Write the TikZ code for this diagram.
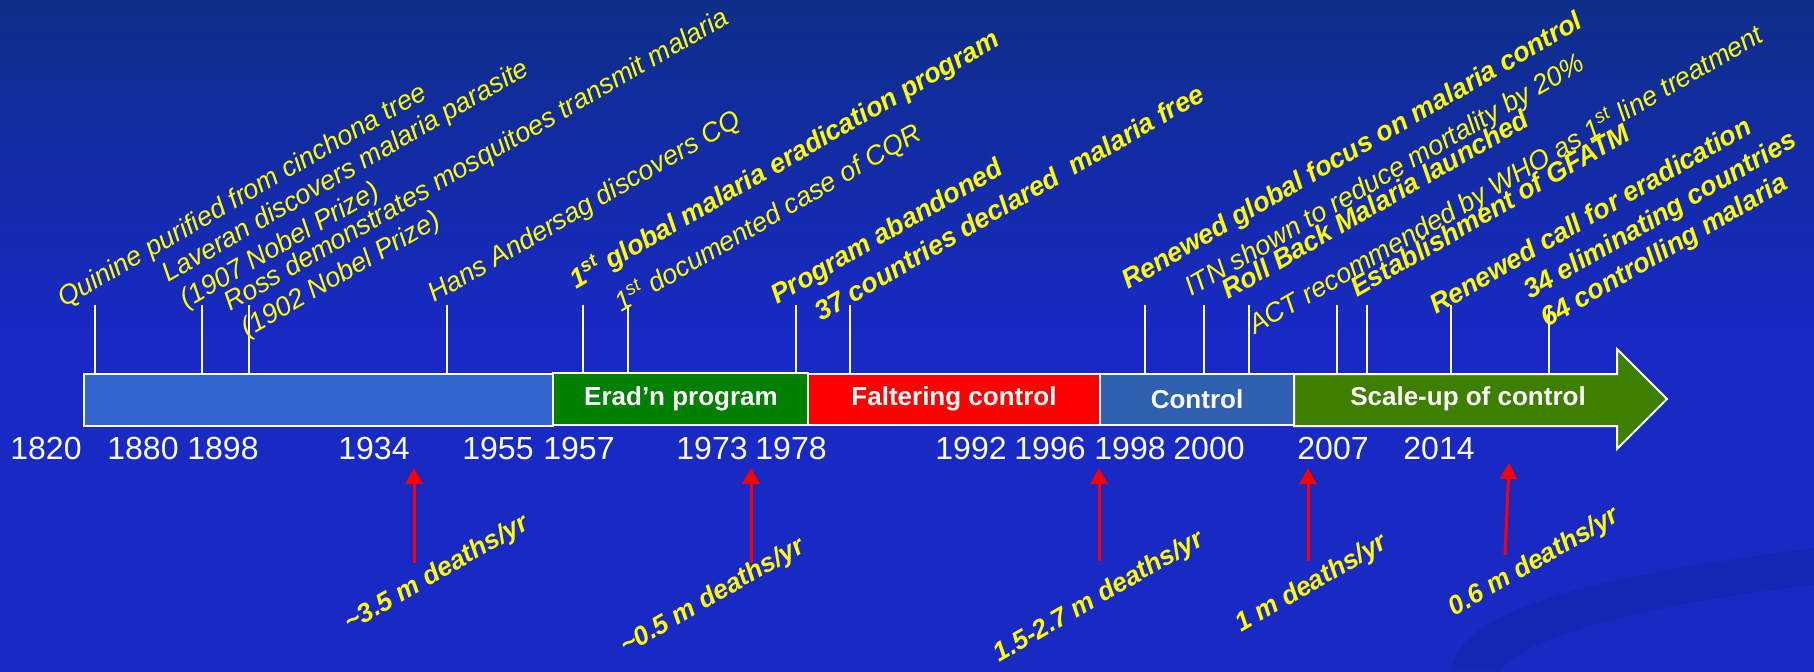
\documentclass[tikz,border=0pt]{standalone}
\usepackage{fontspec}
\setmainfont{Liberation Sans}
\usetikzlibrary{arrows.meta}

\definecolor{bgtop}{HTML}{0E2E8A}
\definecolor{bgbot}{HTML}{1829C4}
\definecolor{swoosh}{HTML}{1626B4}
\definecolor{earlyblue}{HTML}{3366CC}
\definecolor{eradgreen}{HTML}{008000}
\definecolor{falterred}{HTML}{FF0000}
\definecolor{ctrlblue}{HTML}{3060B0}
\definecolor{scalegreen}{HTML}{3F7F00}
\definecolor{evyellow}{HTML}{FFFF00}

\begin{document}
\begin{tikzpicture}[x=0.5pt, y=-0.5pt,
  tick/.style={draw=white, line width=1pt},
  seg/.style={draw=white, line width=1pt},
  barlabel/.style={text=white, inner sep=0pt, font=\fontsize{13}{15}\selectfont\bfseries},
  yearlabel/.style={text=white, inner sep=0pt, anchor=base, font=\fontsize{16}{18}\selectfont},
  event/.style={text=evyellow, inner sep=0pt, anchor=base west, rotate=30, font=\fontsize{13.5}{15}\selectfont\itshape},
  eventbold/.style={event, font=\fontsize{13.5}{15}\selectfont\bfseries\itshape},
  death/.style={eventbold, font=\fontsize{13.2}{15}\selectfont\bfseries\itshape},
  deatharrow/.style={draw=falterred, line width=1.5pt, -{Triangle[width=8.5pt,length=8pt]}}]

% background
\useasboundingbox (0,0) rectangle (1814,671);
\shade[top color=bgtop, bottom color=bgbot, middle color=bgbot] (0,0) rectangle (1814,671);
\fill[swoosh] (1452,671) .. controls (1455,600) and (1650,570) .. (1814,548) -- (1814,585) .. controls (1680,600) and (1530,630) .. (1500,671) -- cycle;

% ticks
\foreach \x in {95,202,249,447,583,628,796,850,1145,1204,1249,1337,1367,1451,1549}
  \draw[tick] (\x,305) -- (\x,374);

% timeline bar
\draw[seg, fill=earlyblue] (84,374) rectangle (553,426);
\draw[seg, fill=eradgreen] (553,373) rectangle (808,425);
\draw[seg, fill=falterred] (808,374) rectangle (1100,425);
\draw[seg, fill=ctrlblue] (1100,374) rectangle (1294,425);
\draw[seg, fill=scalegreen] (1294,374) -- (1617,374) -- (1617,349) -- (1667,399)
  -- (1617,449) -- (1617,426) -- (1294,426) -- cycle;

\node[barlabel] (erad) at (681,399) {Erad’n program};
\node[barlabel] (falter) at (954,399) {Faltering control};
\node[barlabel] (control) at (1197,399) {Control};
\node[barlabel] (scaleup) at (1468,399) {Scale-up of control};

% years
\foreach \yr/\x in {1820/46, 1880/143, 1898/223, 1934/374, 1955/498, 1957/579, 1973/712,
  1978/791, 1992/971, 1996/1050, 1998/1130, 2000/1209, 2007/1333, 2014/1439}
  \node[yearlabel] (y\yr) at (\x,459) {\yr};

% events
\node[event] (quinine) at (64,308) {Quinine purified from cinchona tree};
\node[event] (laveran) at (168,283) {Laveran discovers malaria parasite};
\node[event] (nobelA) at (186,309) {(1907 Nobel Prize)};
\node[event] (ross) at (230,312) {Ross demonstrates mosquitoes transmit malaria};
\node[event] (nobelB) at (247,338) {(1902 Nobel Prize)};
\node[event] (andersag) at (434,303) {Hans Andersag discovers CQ};
\node[eventbold] (gmep) at (576,290) {1\textsuperscript{st} global malaria eradication program};
\node[event] (cqr) at (621,313) {1\textsuperscript{st} documented case of CQR};
\node[eventbold] (abandon) at (777,305) {Program abandoned};
\node[eventbold] (mfree) at (821,322) {37 countries declared\ \ malaria free};
\node[eventbold] (focus) at (1128,290) {Renewed global focus on malaria control};
\node[event] (itn) at (1191,297) {ITN shown to reduce mortality by 20\%};
\node[eventbold] (rbm) at (1228,300) {Roll Back Malaria launched};
\node[event] (act) at (1255,335) {ACT recommended by WHO as 1\textsuperscript{st} line treatment};
\node[eventbold] (gfatm) at (1357,298) {Establishment of GFATM};
\node[eventbold] (recall) at (1436,315) {Renewed call for eradication};
\node[eventbold] (elim) at (1530,300) {34 eliminating countries};
\node[eventbold] (ctrl) at (1547,328) {64 controlling malaria};

% deaths
\node[death] (dA) at (350,632) {\textasciitilde3.5 m deaths/yr};
\node[death] (dB) at (626,655) {\textasciitilde0.5 m deaths/yr};
\node[death] (dC) at (999,663) {1.5-2.7 m deaths/yr};
\node[death] (dD) at (1241,633) {1 m deaths/yr};
\node[death] (dE) at (1454,617) {0.6 m deaths/yr};

\foreach \xa/\ya/\xb/\yb [count=\i] in {414/563/414/468, 751/563/751/468,
  1099/561/1099/468, 1308/561/1308/468, 1505/555/1509/463}{
  \coordinate (foot\i) at (\xa,\ya);
  \coordinate (tip\i) at (\xb,\yb);
  \draw[deatharrow] (foot\i) -- (tip\i);
}
\end{tikzpicture}
\end{document}
